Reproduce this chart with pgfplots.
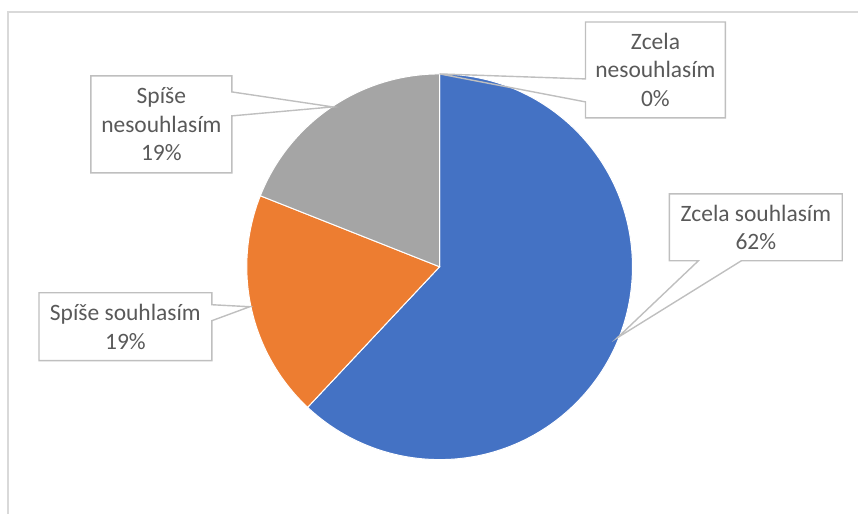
\documentclass[border=0pt]{standalone}
\usepackage{pgfplots}
\pgfplotsset{compat=1.18}
\usepackage{pgfplotstable}
\usepackage{fontspec}
\setmainfont{Carlito}
\definecolor{blueC}{HTML}{4472C4}
\definecolor{orangeC}{HTML}{ED7D31}
\definecolor{grayC}{HTML}{A5A5A5}
\definecolor{textC}{HTML}{595959}
\definecolor{lineC}{HTML}{BFBFBF}
\definecolor{frameC}{HTML}{D9D9D9}
\pgfplotstableread{
label value
ZcelaSouhlasim 62
SpiseSouhlasim 19
SpiseNesouhlasim 19
ZcelaNesouhlasim 0
}\piedata
\tikzset{lbl/.style={font=\fontsize{23.5bp}{28.5bp}\selectfont, text=textC, align=center, inner sep=0pt}}
\begin{document}
\begin{tikzpicture}
\pgfplotstablegetelem{0}{value}\of\piedata \let\vA\pgfplotsretval
\pgfplotstablegetelem{1}{value}\of\piedata \let\vB\pgfplotsretval
\pgfplotstablegetelem{2}{value}\of\piedata \let\vC\pgfplotsretval
\pgfplotstablegetelem{3}{value}\of\piedata \let\vD\pgfplotsretval
\pgfmathsetmacro\aA{90-3.6*\vA}
\pgfmathsetmacro\aB{\aA-3.6*\vB}
\pgfmathsetmacro\aC{\aB-3.6*\vC}
\begin{axis}[
  x=1bp, y=1bp, xmin=0, xmax=859, ymin=0, ymax=514,
  hide axis, clip=false,
]
\path (axis cs:0,0) rectangle (axis cs:859,514);
% frame
\draw[frameC, line width=1.5bp] (axis cs:8,0) -- (axis cs:8,502) -- (axis cs:859,502);
% slices
\fill[blueC, draw=white, line width=1bp] (axis cs:440,247) -- ++(90:193bp) arc[start angle=90, end angle=\aA, radius=193bp] -- cycle;
\fill[orangeC, draw=white, line width=1bp] (axis cs:440,247) -- ++(\aA:193bp) arc[start angle=\aA, end angle=\aB, radius=193bp] -- cycle;
\fill[grayC, draw=white, line width=1bp] (axis cs:440,247) -- ++(\aB:193bp) arc[start angle=\aB, end angle=\aC, radius=193bp] -- cycle;
% callouts
\draw[lineC, line width=1.4bp] (axis cs:586,492) -- (axis cs:726,492) -- (axis cs:726,396) -- (axis cs:586,396) -- (axis cs:586,412) -- (axis cs:440,440) -- (axis cs:586,435) -- cycle;
\draw[lineC, line width=1.4bp] (axis cs:91,438) -- (axis cs:232,438) -- (axis cs:232,422) -- (axis cs:333,407) -- (axis cs:232,398) -- (axis cs:232,341) -- (axis cs:91,341) -- cycle;
\draw[lineC, line width=1.4bp] (axis cs:39,221) -- (axis cs:212,221) -- (axis cs:212,209) -- (axis cs:250,207) -- (axis cs:212,193) -- (axis cs:212,153) -- (axis cs:39,153) -- cycle;
\draw[lineC, line width=1.4bp] (axis cs:670,320) -- (axis cs:843,320) -- (axis cs:843,253) -- (axis cs:742,253) -- (axis cs:618,176) -- (axis cs:699,253) -- (axis cs:670,253) -- cycle;
% labels
\node[lbl] at (axis cs:656,444) {Zcela\\nesouhlasím\\\vD\%};
\node[lbl] at (axis cs:161.5,389.5) {Spíše\\nesouhlasím\\\vC\%};
\node[lbl] at (axis cs:125.5,187) {Spíše souhlasím\\\vB\%};
\node[lbl] at (axis cs:756.5,286.5) {Zcela souhlasím\\\vA\%};
\end{axis}
\end{tikzpicture}
\end{document}
